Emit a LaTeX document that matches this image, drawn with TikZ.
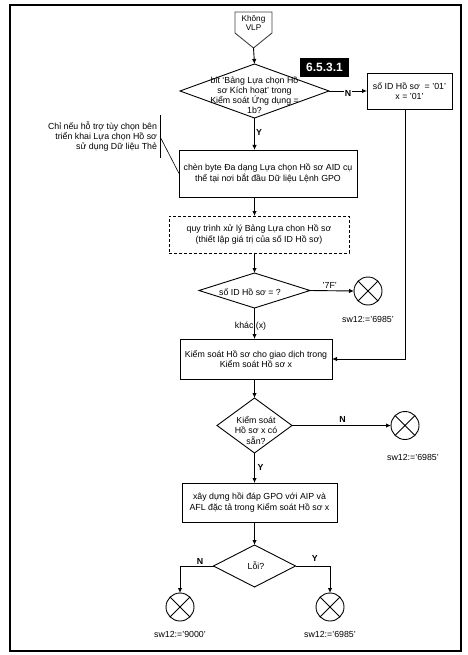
\documentclass[tikz,border=0pt]{standalone}
\usepackage{fontspec}
\setmainfont{Liberation Sans}
\usetikzlibrary{arrows.meta,shapes.geometric}
\begin{document}
\begin{tikzpicture}[x=1pt,y=1pt,
  every node/.style={font=\fontsize{8.8}{10.5}\selectfont, inner sep=0pt, outer sep=0pt},
  box/.style={draw, line width=0.9pt, align=center},
  dashbox/.style={draw, line width=0.9pt, dash pattern=on 3pt off 2pt, align=center},
  dia/.style={draw, diamond, line width=0.9pt},
  endc/.style={draw, circle, line width=0.9pt, minimum size=28pt},
  txt/.style={align=center},
  lbl/.style={font=\fontsize{8.8}{10.5}\selectfont},
  yn/.style={font=\fontsize{8.8}{10.5}\selectfont\bfseries},
  arr/.style={-{Latex[length=5pt,width=4.5pt]}, line width=0.9pt},
  ln/.style={line width=0.9pt},
]
\useasboundingbox (0,0) rectangle (467,-655);
\draw[line width=1.1pt] (10,-5) rectangle (461,-651);

% start
\draw[ln, black!75] (235,-12) -- (272,-12) -- (272,-33) -- (253.5,-48) -- (235,-33) -- cycle;
\node[txt, font=\fontsize{8.2}{9.5}\selectfont] (st) at (253.5,-23) {Không\\VLP};
\coordinate (sttip) at (253.5,-48);

% decision 1
\node[dia, minimum width=149pt, minimum height=54pt] (d1) at (254.5,-91) {};
\node[txt, font=\fontsize{8.8}{9.8}\selectfont] (d1t) at (254.5,-95) {bit ‘Bảng Lựa chọn Hồ\\sơ Kích hoạt’ trong\\Kiểm soát Ứng dụng =\\1b?};
\draw[arr] (sttip) -- (d1.north);

% section tag
\node[fill=black, text=white, font=\fontsize{12}{14}\selectfont\bfseries, minimum width=49pt, minimum height=19pt] (sec) at (324.5,-67.5) {6.5.3.1};

% right box
\node[box, minimum width=85pt, minimum height=36pt] (r1) at (409.5,-91) {số ID Hồ sơ\ \ = '01'\\x = '01'};
\draw[arr] (d1.east) -- node[yn, fill=white, inner sep=1pt, yshift=-2pt]{N} (r1.west);

% box 2
\node[box, minimum width=178pt, minimum height=47pt] (b2) at (268,-173.5) {chèn byte Đa dạng Lựa chọn Hồ sơ AID cụ\\thể tại nơi bắt đầu Dữ liệu Lệnh GPO};
\draw[arr] (d1.south) -- node[yn, pos=0.44, right=1.5pt]{Y} (d1.south |- b2.north);

% note
\node[align=right, anchor=east, minimum height=43pt, inner xsep=3pt, font=\fontsize{8.8}{10}\selectfont] (note) at (160,-136.5) {Chỉ nếu hỗ trợ tùy chọn bên\\triển khai Lựa chọn Hồ sơ\\sử dụng Dữ liệu Thẻ};
\draw[line width=0.6pt] (note.north east) -- (note.south east);
\draw[line width=0.6pt] (note.east) -- (b2.west);

% dashed box
\node[dashbox, minimum width=180pt, minimum height=37pt] (b3) at (259,-234.5) {quy trình xử lý Bảng Lựa chon Hồ sơ\\(thiết lập giá trị của số ID Hồ sơ)};
\draw[arr] (d1.south |- b2.south) -- (d1.south |- b3.north);

% decision 3
\node[dia, minimum width=111pt, minimum height=35pt] (d3) at (254.5,-290.5) {};
\node[txt] (d3t) at (250,-292) {số ID Hồ sơ = ?};
\draw[arr] (d1.south |- b3.south) -- (d3.north);

\node[endc] (c1) at (368,-291) {};
\draw[ln] (c1.north west) -- (c1.south east) (c1.north east) -- (c1.south west);
\draw[arr] (d3.east) -- node[lbl, pos=0.45, above=2pt]{'7F'} (c1.west);
\node[lbl] (t1) at ([yshift=-28pt]c1.center) {sw12:='6985'};

% box 4
\node[box, minimum width=152pt, minimum height=40pt] (b4) at (256,-359) {Kiểm soát Hồ sơ cho giao dịch trong\\Kiểm soát Hồ sơ x};
\draw[arr] (d3.south) -- node[lbl, pos=0.58, xshift=-4pt]{khác (x)} (d3.south |- b4.north);
\draw[arr] ([xshift=-4.5pt]r1.south) |- (b4.east);

% decision 4
\node[dia, minimum width=75pt, minimum height=55pt] (d4) at (254.5,-425.5) {};
\node[txt, font=\fontsize{8.8}{10.5}\selectfont] (d4t) at (256,-430) {Kiểm soát\\Hồ sơ x có\\sẵn?};
\draw[arr] (d3.south |- b4.south) -- (d4.north);

\node[endc] (c2) at (405,-425.5) {};
\draw[ln] (c2.north west) -- (c2.south east) (c2.north east) -- (c2.south west);
\draw[arr] (d4.east) -- node[yn, pos=0.51, above=3pt]{N} (c2.west);
\node[lbl] (t2) at ([xshift=8pt,yshift=-32pt]c2.center) {sw12:='6985'};

% box 5
\node[box, minimum width=155pt, minimum height=39pt] (b5) at (259.5,-502.5) {xây dựng hồi đáp GPO với AIP và\\AFL đặc tả trong Kiểm soát Hồ sơ x};
\draw[arr] (d4.south) -- node[yn, pos=0.47, right=3pt]{Y} (d4.south |- b5.north);

% decision 5
\node[dia, minimum width=82pt, minimum height=42pt] (d5) at (254.5,-566) {};
\node[txt] (d5t) at (256,-566) {Lỗi?};
\draw[arr] (d4.south |- b5.south) -- (d5.north);

\node[endc] (c3) at (180,-607) {};
\draw[ln] (c3.north west) -- (c3.south east) (c3.north east) -- (c3.south west);
\node[endc] (c4) at (330,-607) {};
\draw[ln] (c4.north west) -- (c4.south east) (c4.north east) -- (c4.south west);
\draw[arr] (d5.west) -| node[yn, pos=0.2, above=2pt]{N} (c3.north);
\draw[arr] (d5.east) -| node[yn, pos=0.28, above=5pt]{Y} (c4.north);
\node[lbl] (t3) at ([yshift=-27pt]c3.center) {sw12:='9000'};
\node[lbl] (t4) at ([yshift=-27pt]c4.center) {sw12:='6985'};
\end{tikzpicture}
\end{document}
